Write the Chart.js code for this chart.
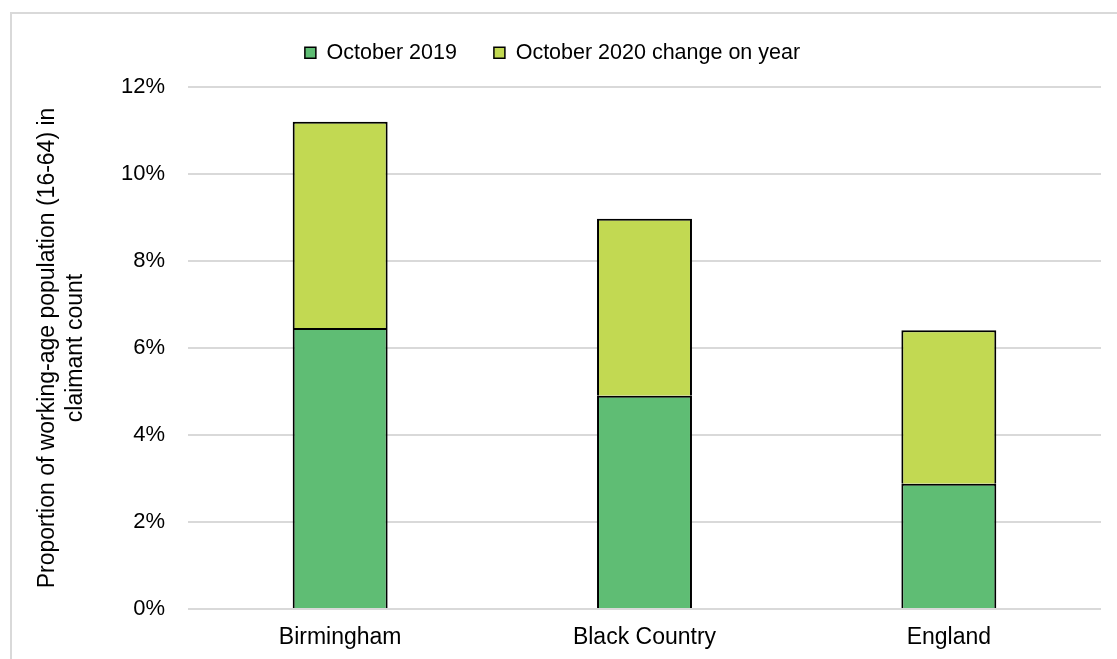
<!DOCTYPE html>
<html>
<head>
<meta charset="utf-8">
<script src="https://cdn.jsdelivr.net/npm/chart.js@4"></script>
<style>
  html, body { margin: 0; padding: 0; background: #fff; overflow: hidden; }
  #wrap { position: relative; width: 1117px; height: 659px; }
  #frame { position: absolute; left: 10px; top: 12px; width: 1200px; height: 800px; border: 2px solid #d9d9d9; box-sizing: border-box; }
  canvas { position: absolute; left: 0; top: 0; }
</style>
</head>
<body>
<div id="wrap">
  <div id="frame"></div>
  <canvas id="c" width="1117" height="659"></canvas>
</div>
<script>
const categories = ['Birmingham', 'Black Country', 'England'];
const october2019 = [6.46, 4.90, 2.88];
const october2020Change = [4.74, 4.07, 3.53];
const seriesNames = ['October 2019', 'October 2020 change on year'];
const yTicksMax = 12;
const yTickStep = 2;
const yTitle = ['Proportion of working-age population (16-64) in', 'claimant count'];

const FONT = 'Liberation Sans, Arial, sans-serif';

const legendHeight = {
  id: 'legendHeight',
  beforeInit(chart) {
    const lg = chart.legend;
    if (!lg) return;
    const orig = lg.fit;
    lg.fit = function () { orig.call(this); this.height = 82; };
  },
  afterLayout(chart) {
    const lg = chart.legend;
    if (lg) { lg.left += 2; lg.right += 2; }
  }
};

new Chart(document.getElementById('c'), {
  type: 'bar',
  data: {
    labels: categories,
    datasets: [
      { label: seriesNames[0], data: october2019, backgroundColor: '#5FBD74', borderColor: '#000', borderWidth: 2, barPercentage: 0.312, categoryPercentage: 1 },
      { label: seriesNames[1], data: october2020Change, backgroundColor: '#C2D952', borderColor: '#000', borderWidth: 2, barPercentage: 0.312, categoryPercentage: 1 }
    ]
  },
  options: {
    responsive: false,
    animation: false,
    layout: { padding: { left: 0, right: 16, top: 5, bottom: 0 } },
    plugins: {
      legend: {
        position: 'top',
        labels: {
          boxWidth: 11, boxHeight: 11, padding: 37, color: '#000',
          font: { family: FONT, size: 21.5 },
          generateLabels(chart) {
            return chart.data.datasets.map((ds, i) => ({
              text: ds.label, fillStyle: ds.backgroundColor, strokeStyle: '#000', lineWidth: 1.5, datasetIndex: i, hidden: false
            }));
          }
        }
      },
      tooltip: { enabled: false }
    },
    scales: {
      x: {
        stacked: true,
        grid: { display: false },
        border: { display: false },
        ticks: { color: '#000', font: { family: FONT, size: 23 }, padding: 7 },
        afterFit(s) { s.height = 50; }
      },
      y: {
        stacked: true,
        min: 0, max: yTicksMax,
        grid: { color: '#d9d9d9', lineWidth: 2, drawTicks: false },
        border: { display: false },
        ticks: { stepSize: yTickStep, color: '#000', font: { family: FONT, size: 22 }, padding: 23, callback: v => v + '%' },
        title: { display: true, text: yTitle, color: '#000', font: { family: FONT, size: 23, lineHeight: 1.2 }, padding: { top: 34, bottom: 0 } },
        afterFit(s) { s.width = 188; }
      }
    }
  },
  plugins: [legendHeight]
});
</script>
</body>
</html>
